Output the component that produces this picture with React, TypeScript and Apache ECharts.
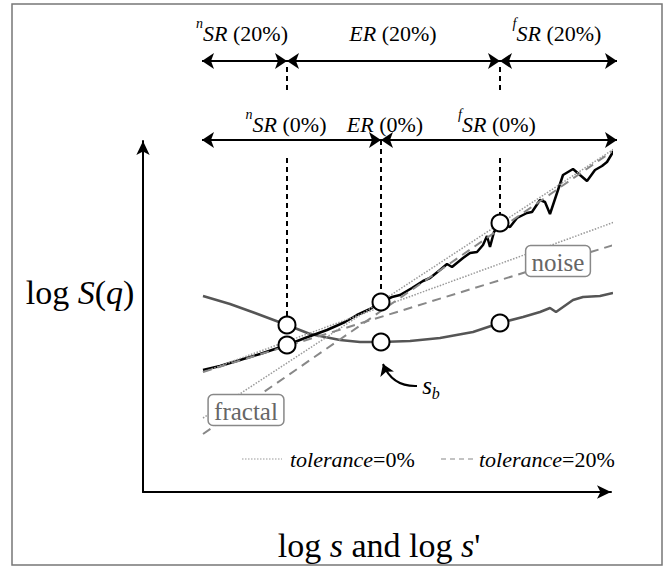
import React, { useEffect, useRef } from "react";
import * as echarts from "echarts";

const SERIF = "Liberation Serif";

// Chart units: x = position along "log s", y = "log S(q)" (origin at the axes corner)
const X_MAX = 468;
const Y_MAX = 351;

const blackCurve: [number, number][] = [
  [60, 122], [77, 126], [97, 132], [117, 138], [144, 147], [162, 154], [184, 162],
  [202, 170], [214, 177], [227, 183], [238, 190], [249, 195], [257, 197], [269, 204],
  [280, 211], [287, 214], [297, 222], [304, 228], [309, 225], [320, 234], [327, 239],
  [334, 240], [340, 247], [344, 256], [347, 245], [351, 260], [357, 269], [367, 265],
  [374, 274], [384, 279], [389, 280], [397, 292], [402, 290], [407, 278], [420, 317],
  [430, 323], [444, 311], [452, 322], [459, 326], [464, 330], [470, 340], [477, 349],
];

const grayCurve: [number, number][] = [
  [60, 196], [87, 188], [112, 179], [144, 167], [167, 158], [197, 152], [217, 150],
  [238, 150], [267, 151], [297, 154], [330, 160], [357, 169], [380, 175], [397, 180],
  [407, 184], [413, 180], [430, 192], [440, 195], [457, 196], [470, 199],
];

const fractalFit0: [number, number][] = [[60, 74], [477, 347]];
const fractalFit20: [number, number][] = [[60, 58], [477, 346]];
const noiseFit0: [number, number][] = [[60, 120], [477, 272]];
const noiseFit20: [number, number][] = [[60, 120], [477, 249]];

const markerPoints: [number, number][] = [
  [144, 167], [144, 147], [238, 190], [238, 150], [357, 269], [357, 169],
];

// range boundaries
const rangeStart = 59;
const rangeEnd = 474;
const bounds20 = [144, 357];
const bounds0 = [238];
const row20Y = 431;
const row0Y = 352;

const dropLines: [number, number][][] = [
  [[144, 334], [144, 167]],
  [[144, 425], [144, 400]],
  [[238, 352], [238, 190]],
  [[357, 334], [357, 269]],
  [[357, 425], [357, 402]],
];

type Seg = { t: string; it?: boolean; size: number; dy?: number };

const rangeLabels: { segs: Seg[]; x: number; y: number }[] = [
  { segs: [{ t: "n", it: true, size: 14, dy: -10 }, { t: "SR", it: true, size: 22 }, { t: " (20%)", size: 22 }], x: 99, y: 459 },
  { segs: [{ t: "ER", it: true, size: 22 }, { t: " (20%)", size: 22 }], x: 250, y: 459 },
  { segs: [{ t: "f", it: true, size: 14, dy: -10 }, { t: "SR", it: true, size: 22 }, { t: " (20%)", size: 22 }], x: 414, y: 459 },
  { segs: [{ t: "n", it: true, size: 14, dy: -10 }, { t: "SR", it: true, size: 22 }, { t: " (0%)", size: 22 }], x: 143, y: 368 },
  { segs: [{ t: "ER", it: true, size: 22 }, { t: " (0%)", size: 22 }], x: 242, y: 368 },
  { segs: [{ t: "f", it: true, size: 14, dy: -10 }, { t: "SR", it: true, size: 22 }, { t: " (0%)", size: 22 }], x: 354, y: 368 },
];

const boxLabels = [
  { text: "noise", x: 415, y: 231 },
  { text: "fractal", x: 103, y: 82 },
];

const sbLabel = { x: 288, y: 104 };
const sbArrow: [number, number][] = [[274, 106], [240, 128]];
const yTitle = { x: -63, y: 200 };
const xTitle = { x: 236, y: -53 };

const LEGEND_0 = "=0%";
const LEGEND_20 = "=20%";

function segmentsOf(bounds: number[], y: number) {
  const pts = [rangeStart, ...bounds, rangeEnd];
  const segs = [];
  for (let i = 0; i < pts.length - 1; i++) {
    segs.push({ coords: [[pts[i], y], [pts[i + 1], y]] });
  }
  return segs;
}

function fontOf(size: number, italic: boolean) {
  return `${italic ? "italic " : ""}${size}px ${SERIF}`;
}

let measureCtx: CanvasRenderingContext2D | null = null;
function measure(text: string, size: number, italic: boolean) {
  if (!measureCtx) measureCtx = document.createElement("canvas").getContext("2d");
  const ctx = measureCtx!;
  ctx.font = fontOf(size, italic);
  return ctx.measureText(text).width;
}

function textRun(segs: Seg[], x0: number, cy: number, align: "center" | "left", color = "#000") {
  const widths = segs.map((s) => measure(s.t, s.size, !!s.it));
  const total = widths.reduce((a, b) => a + b, 0);
  let x = align === "center" ? x0 - total / 2 : x0;
  return segs.map((s, i) => {
    const el = {
      type: "text",
      x,
      y: cy + (s.dy || 0),
      z: 20,
      silent: true,
      style: {
        text: s.t,
        font: fontOf(s.size, !!s.it),
        fill: color,
        align: "left",
        verticalAlign: "middle",
      },
    };
    x += widths[i];
    return el;
  });
}

export default function App() {
  const ref = useRef<HTMLDivElement>(null);
  useEffect(() => {
    const chart = echarts.init(ref.current!, null, { renderer: "svg" });
    const option: any = {
      animation: false,
      backgroundColor: "#fff",
      grid: { left: 143, right: 56, top: 141, bottom: 75 },
      xAxis: {
        type: "value",
        min: 0,
        max: X_MAX,
        axisLine: {
          show: true,
          symbol: ["none", "arrow"],
          symbolSize: [10, 14],
          lineStyle: { color: "#000", width: 2 },
        },
        axisTick: { show: false },
        axisLabel: { show: false },
        splitLine: { show: false },
      },
      yAxis: {
        type: "value",
        min: 0,
        max: Y_MAX,
        axisLine: {
          show: true,
          symbol: ["none", "arrow"],
          symbolSize: [10, 14],
          lineStyle: { color: "#000", width: 2 },
        },
        axisTick: { show: false },
        axisLabel: { show: false },
        splitLine: { show: false },
      },
      series: [
        {
          type: "line",
          data: grayCurve,
          symbol: "none",
          clip: false,
          lineStyle: { color: "#555", width: 2.5 },
          z: 2,
          silent: true,
        },
        {
          type: "line",
          data: blackCurve,
          symbol: "none",
          clip: false,
          lineStyle: { color: "#000", width: 2.5 },
          z: 3,
          silent: true,
        },
        {
          type: "line",
          data: noiseFit0,
          symbol: "none",
          clip: false,
          lineStyle: { color: "#999", width: 1.5, type: "dotted" },
          z: 4,
          silent: true,
        },
        {
          type: "line",
          data: fractalFit0,
          symbol: "none",
          clip: false,
          lineStyle: { color: "#999", width: 1.5, type: "dotted" },
          z: 4,
          silent: true,
        },
        {
          type: "line",
          data: noiseFit20,
          symbol: "none",
          clip: false,
          lineStyle: { color: "#888", width: 2, type: [9, 6] },
          z: 4,
          silent: true,
        },
        {
          type: "line",
          data: fractalFit20,
          symbol: "none",
          clip: false,
          lineStyle: { color: "#888", width: 2, type: [9, 6] },
          z: 4,
          silent: true,
        },
        {
          type: "lines",
          coordinateSystem: "cartesian2d",
          clip: false,
          symbol: ["none", "none"],
          lineStyle: { color: "#000", width: 2, type: [5, 4], opacity: 1 },
          data: dropLines.map((c) => ({ coords: c })),
          z: 5,
          silent: true,
        },
        {
          type: "lines",
          coordinateSystem: "cartesian2d",
          clip: false,
          symbol: ["arrow", "arrow"],
          symbolSize: 12,
          lineStyle: { color: "#000", width: 2, opacity: 1 },
          data: [...segmentsOf(bounds20, row20Y), ...segmentsOf(bounds0, row0Y)],
          z: 5,
          silent: true,
        },
        {
          type: "lines",
          coordinateSystem: "cartesian2d",
          clip: false,
          symbol: ["none", "arrow"],
          symbolSize: 11,
          lineStyle: { color: "#000", width: 2, opacity: 1, curveness: 0.35 },
          data: [{ coords: sbArrow }],
          z: 5,
          silent: true,
        },
        {
          type: "scatter",
          data: markerPoints,
          symbol: "circle",
          symbolSize: 17,
          clip: false,
          itemStyle: { color: "#fff", borderColor: "#000", borderWidth: 2, opacity: 1 },
          z: 10,
          silent: true,
        },
      ],
    };
    chart.setOption(option);

    const px = (p: number[]) => chart.convertToPixel({ gridIndex: 0 }, p) as number[];
    const g: any[] = [
      {
        type: "rect",
        shape: { x: 12, y: 4, width: 650, height: 561 },
        style: { fill: "none", stroke: "#777", lineWidth: 1.5 },
        silent: true,
        z: -1,
      },
    ];
    rangeLabels.forEach((l) => {
      const [cx, cy] = px([l.x, l.y]);
      g.push(...textRun(l.segs, cx, cy, "center"));
    });
    boxLabels.forEach((b) => {
      const [cx, cy] = px([b.x, b.y]);
      const w = measure(b.text, 25, false) + 12;
      const h = 31;
      g.push({
        type: "rect",
        shape: { x: cx - w / 2, y: cy - h / 2, width: w, height: h, r: 5 },
        style: { fill: "#fff", stroke: "#888", lineWidth: 1.5 },
        z: 19,
        silent: true,
      });
      g.push(...textRun([{ t: b.text, size: 25 }], cx, cy + 1, "center", "#666"));
    });
    {
      const [cx, cy] = px([sbLabel.x, sbLabel.y]);
      g.push(...textRun([{ t: "s", it: true, size: 25 }, { t: "b", it: true, size: 16, dy: 8 }], cx, cy - 3, "center"));
    }
    {
      const [cx, cy] = px([yTitle.x, yTitle.y]);
      g.push(
        ...textRun(
          [
            { t: "log ", size: 34 },
            { t: "S", it: true, size: 34 },
            { t: "(", size: 34 },
            { t: "q", it: true, size: 34 },
            { t: ")", size: 34 },
          ],
          cx,
          cy,
          "center"
        )
      );
    }
    {
      const [cx, cy] = px([xTitle.x, xTitle.y]);
      g.push(
        ...textRun(
          [
            { t: "log ", size: 34 },
            { t: "s", it: true, size: 34 },
            { t: " and log ", size: 34 },
            { t: "s", it: true, size: 34 },
            { t: "'", size: 34 },
          ],
          cx,
          cy,
          "center"
        )
      );
    }
    // legend
    const legendY = 459;
    g.push({
      type: "line",
      shape: { x1: 242, y1: legendY, x2: 282, y2: legendY },
      style: { stroke: "#999", lineWidth: 1.2, lineDash: [1.5, 1.5] },
      silent: true,
      z: 20,
    });
    g.push(...textRun([{ t: "tolerance", it: true, size: 22 }, { t: LEGEND_0, size: 22 }], 290, legendY, "left"));
    g.push({
      type: "line",
      shape: { x1: 441, y1: legendY, x2: 477, y2: legendY },
      style: { stroke: "#888", lineWidth: 1.2, lineDash: [5, 4] },
      silent: true,
      z: 20,
    });
    g.push(...textRun([{ t: "tolerance", it: true, size: 22 }, { t: LEGEND_20, size: 22 }], 479, legendY, "left"));

    chart.setOption({ graphic: g });
    return () => chart.dispose();
  }, []);
  return (
    <div
      ref={ref}
      style={{ position: "fixed", left: 0, top: 0, width: 667, height: 567 }}
    />
  );
}
